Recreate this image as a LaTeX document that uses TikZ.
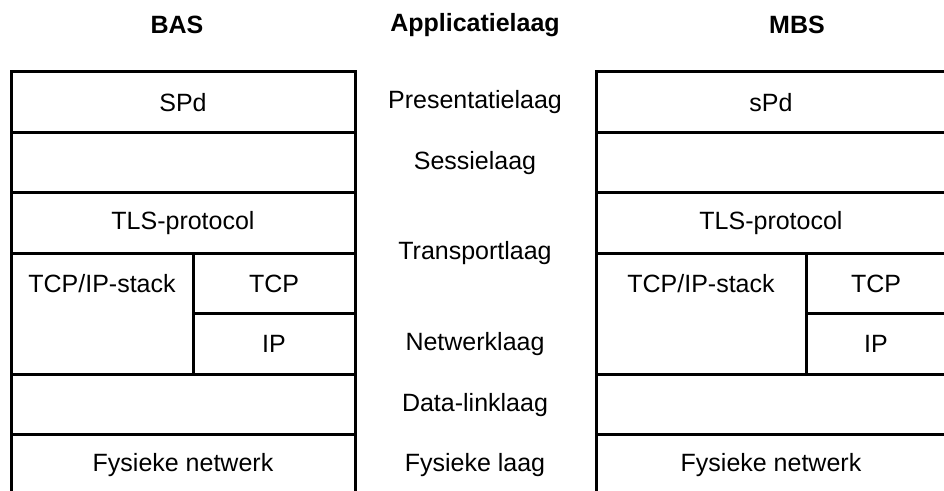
\documentclass[tikz,border=0pt]{standalone}
\usepackage{fontspec}
\setmainfont{Liberation Sans}
\usetikzlibrary{positioning}

\begin{document}
\begin{tikzpicture}[
    x=0.5pt, y=-0.5pt,
    node distance=0pt,
    laag/.style={rectangle, draw=black, line width=1.5pt, outer sep=0pt, inner sep=0pt, minimum height=30.25pt, font=\fontsize{12.5pt}{15pt}\selectfont},
    breedL/.style={laag, minimum width=172pt},
    breedR/.style={laag, minimum width=175pt},
    tekst/.style={font=\fontsize{12.5pt}{15pt}\selectfont},
    kop/.style={font=\fontsize{12.5pt}{15pt}\selectfont\bfseries}
]
\useasboundingbox (0,0) rectangle (944,491);
\clip (0,0) rectangle (944,491);

% BAS
\node[kop] (bas) at (177,25) {BAS};
\node[breedL, anchor=north west] (spdL) at (11,72) {SPd};
\node[breedL, below=of spdL] (sesL) {};
\node[breedL, below=of sesL] (tlsL) {TLS-protocol};
\node[laag, minimum width=91pt, minimum height=60.5pt, anchor=north west] (stackL) at (tlsL.south west) {};
\node[laag, minimum width=81pt, anchor=north west] (tcpL) at (stackL.north east) {TCP};
\node[laag, minimum width=81pt, below=of tcpL] (ipL) {IP};
\node[breedL, anchor=north west] (linkL) at (stackL.south west) {};
\node[breedL, below=of linkL] (fysL) {Fysieke netwerk};
\node[tekst] (stacktxtL) at (stackL.north |- tcpL) {TCP/IP-stack};

% MBS
\node[kop] (mbs) at (797,25) {MBS};
\node[breedR, anchor=north west] (spdR) at (596,72) {sPd};
\node[breedR, below=of spdR] (sesR) {};
\node[breedR, below=of sesR] (tlsR) {TLS-protocol};
\node[laag, minimum width=105pt, minimum height=60.5pt, anchor=north west] (stackR) at (tlsR.south west) {};
\node[laag, minimum width=70pt, anchor=north west] (tcpR) at (stackR.north east) {TCP};
\node[laag, minimum width=70pt, below=of tcpR] (ipR) {IP};
\node[breedR, anchor=north west] (linkR) at (stackR.south west) {};
\node[breedR, below=of linkR] (fysR) {Fysieke netwerk};
\node[tekst] (stacktxtR) at (stackR.north |- tcpR) {TCP/IP-stack};

% OSI-lagen
\coordinate (midden) at (475,0);
\node[kop] (app) at (475,25) {Applicatielaag};
\node[tekst] (pres) at (midden |- spdL) {Presentatielaag};
\node[tekst] (sess) at (midden |- sesL) {Sessielaag};
\node[tekst] (trans) at (midden |- tlsL.south) {Transportlaag};
\node[tekst] (netw) at (midden |- ipL) {Netwerklaag};
\node[tekst] (dlink) at (midden |- linkL) {Data-linklaag};
\node[tekst] (fysl) at (midden |- fysL) {Fysieke laag};
\end{tikzpicture}
\end{document}
